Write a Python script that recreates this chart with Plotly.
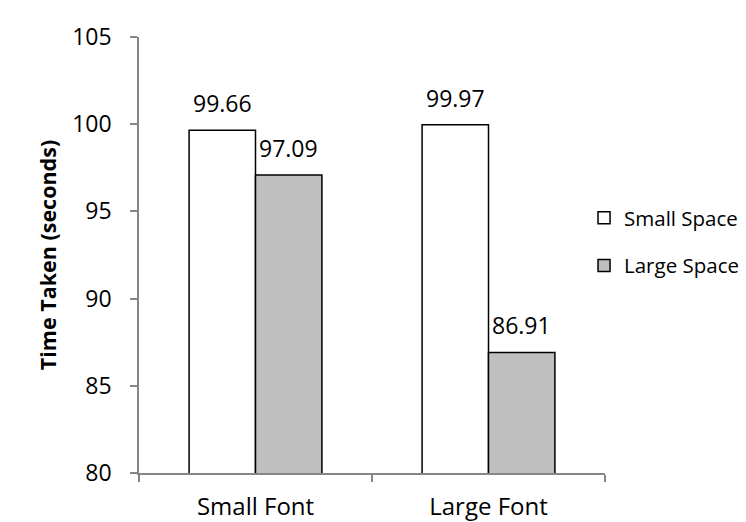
import plotly.graph_objects as go

categories = ["Small Font", "Large Font"]
small_space = [99.66, 99.97]
large_space = [97.09, 86.91]
series_names = ["Small Space", "Large Space"]
y_ticks = [80, 85, 90, 95, 100, 105]

FONT = "Open Sans"
AXIS_GRAY = "#868686"

fig = go.Figure()
fig.add_trace(go.Bar(
    x=categories, y=small_space, name=series_names[0],
    marker=dict(color="white", line=dict(color="black", width=1.5)),
    legendgroup="a",
))
fig.add_trace(go.Bar(
    x=categories, y=large_space, name=series_names[1],
    marker=dict(color="#BFBFBF", line=dict(color="black", width=1.5)),
    legendgroup="b",
))

# value labels above each bar
for vals, shift in ((small_space, -33), (large_space, 33)):
    for cat, v in zip(categories, vals):
        fig.add_annotation(
            x=cat, y=v, text=f"{v:.2f}", showarrow=False,
            xshift=shift, yshift=27, yanchor="middle",
            font=dict(family=FONT, size=23, color="black"),
        )

fig.update_layout(
    width=746, height=522,
    margin=dict(l=139, r=141, t=37, b=49, autoexpand=False),
    paper_bgcolor="white", plot_bgcolor="white",
    barmode="group", bargap=0.43, bargroupgap=0,
    font=dict(family=FONT, size=21, color="black"),
    showlegend=True,
    legend=dict(
        x=0.955, xanchor="left", y=0.53, yanchor="middle",
        traceorder="grouped", tracegroupgap=18,
        font=dict(family=FONT, size=20.5, color="black"),
        itemwidth=30,
    ),
    xaxis=dict(
        type="category", tickson="boundaries",
        showline=True, linecolor=AXIS_GRAY, linewidth=1.5,
        ticks="outside", ticklen=7, tickcolor=AXIS_GRAY, tickwidth=1.5,
        showgrid=False, tickfont=dict(family=FONT, size=24),
        ticklabelstandoff=11,
    ),
    yaxis=dict(
        range=[80, 105], tickvals=y_ticks,
        showline=True, linecolor=AXIS_GRAY, linewidth=1.5,
        ticks="outside", ticklen=7, tickcolor=AXIS_GRAY, tickwidth=1.5,
        showgrid=False, zeroline=False,
        tickfont=dict(family=FONT, size=23),
        ticklabelstandoff=14,
        title=dict(text="<b>Time Taken (seconds)</b>",
                   font=dict(family=FONT, size=21.5), standoff=10),
    ),
)

fig.write_html("out.html")
